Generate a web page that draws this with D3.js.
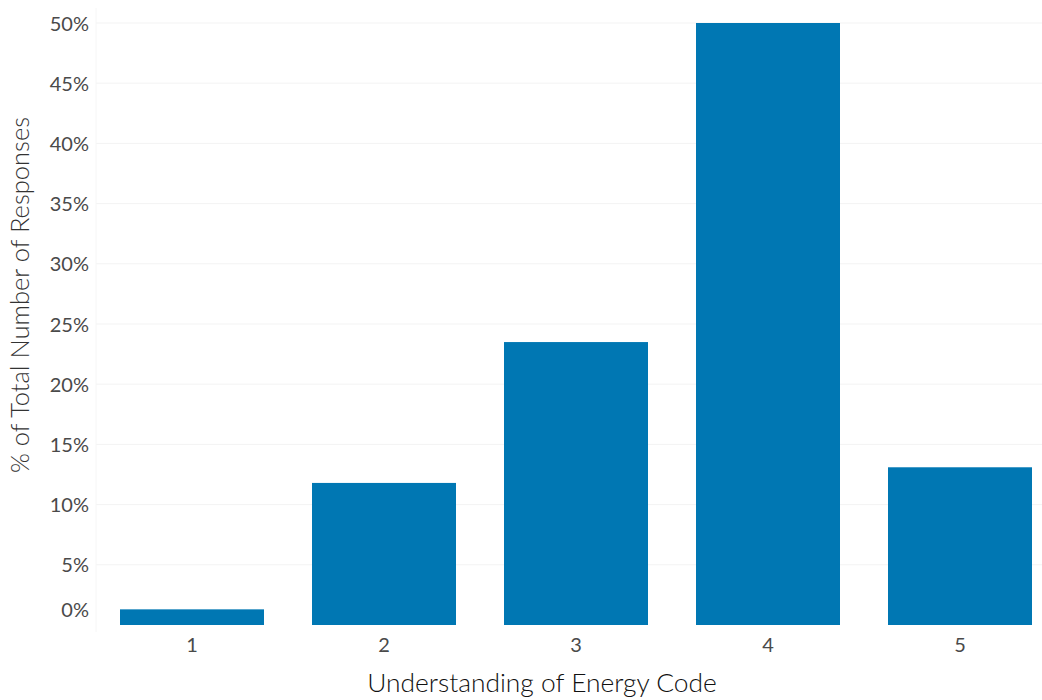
<!DOCTYPE html>
<html>
<head>
<meta charset="utf-8">
<script src="https://cdn.jsdelivr.net/npm/d3@7"></script>
<style>
  html, body { margin: 0; padding: 0; background: #fff; }
  svg { display: block; }
  text { font-family: "Lato", "Open Sans", sans-serif; font-weight: 300; }
</style>
</head>
<body>
<svg id="chart" width="1042" height="700"></svg>
<script>
const categories = ["1", "2", "3", "4", "5"];
const values = [1.3, 11.8, 23.5, 50.0, 13.1];
const yTicks = [0, 5, 10, 15, 20, 25, 30, 35, 40, 45, 50];
const xTitle = "Understanding of Energy Code";
const yTitle = "% of Total Number of Responses";

const W = 1042, H = 700;
const svg = d3.select("#chart");

const x = d3.scaleBand().domain(categories).range([120, 1032]).paddingInner(0.25).paddingOuter(0);
const y = d3.scaleLinear().domain([0, 50]).range([625, 23]);

// gridlines
svg.append("g").selectAll("line").data(yTicks.filter(d => d > 0)).join("line")
  .attr("x1", 96).attr("x2", W)
  .attr("y1", d => y(d)).attr("y2", d => y(d))
  .attr("stroke", "#f3f3f3").attr("stroke-width", 1);
svg.append("line").attr("x1", 96).attr("x2", 96).attr("y1", 8).attr("y2", 632)
  .attr("stroke", "#f6f6f6");

// bars
svg.append("g").selectAll("rect").data(values).join("rect")
  .attr("x", (d, i) => x(categories[i]))
  .attr("width", x.bandwidth())
  .attr("y", d => y(d))
  .attr("height", d => y(0) - y(d))
  .attr("fill", "#0077b3");

// y axis
const yAxis = d3.axisLeft(y).tickValues(yTicks).tickFormat(d => d + "%").tickSize(0).tickPadding(0);
const gy = svg.append("g").attr("transform", "translate(89,0)").call(yAxis);
gy.select(".domain").remove();
gy.selectAll("text")
  .attr("fill", "#4a4a4a")
  .style("font-size", "20px")
  .style("font-weight", 400)
  .attr("dy", d => d === 0 ? "-0.45em" : "0.35em");

// x axis
const xAxis = d3.axisBottom(x).tickSize(0).tickPadding(0);
const gx = svg.append("g").attr("transform", "translate(0,625)").call(xAxis);
gx.select(".domain").remove();
gx.selectAll("text")
  .attr("fill", "#4a4a4a")
  .attr("y", 27)
  .attr("dy", 0)
  .style("font-size", "20px")
  .style("font-weight", 400);

// titles
const xt = svg.append("text")
  .attr("x", 542).attr("y", 692)
  .attr("text-anchor", "middle")
  .attr("fill", "#111")
  .style("font-size", "20px")
  .text(xTitle);
const yt = svg.append("text")
  .attr("transform", "translate(29,295) rotate(-90)")
  .attr("text-anchor", "middle")
  .attr("fill", "#333")
  .style("font-size", "20px")
  .text(yTitle);

// fit title widths to reference extent
function fit(sel, target) {
  const w = sel.node().getComputedTextLength();
  const fs = parseFloat(sel.style("font-size"));
  sel.style("font-size", (fs * target / w).toFixed(2) + "px");
}
fit(xt, 350);
fit(yt, 356);
</script>
</body>
</html>
